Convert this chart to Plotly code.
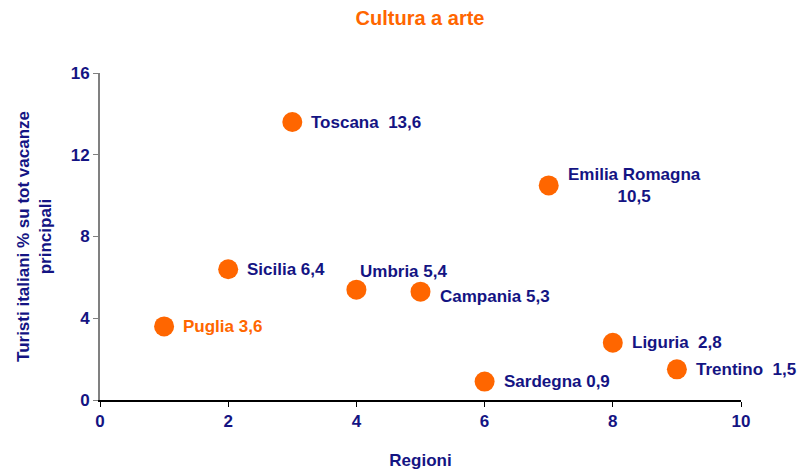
import plotly.graph_objects as go

regions = ["Puglia", "Sicilia", "Toscana", "Umbria", "Campania", "Sardegna", "Emilia Romagna", "Liguria", "Trentino"]
x_vals = [1, 2, 3, 4, 5, 6, 7, 8, 9]
y_vals = [3.6, 6.4, 13.6, 5.4, 5.3, 0.9, 10.5, 2.8, 1.5]
separators = [" ", " ", "&nbsp; ", " ", " ", " ", "<br>", "&nbsp; ", "&nbsp; "]

x_ticks = [0, 2, 4, 6, 8, 10]
y_ticks = [0, 4, 8, 12, 16]

ORANGE = "#FF6600"
NAVY = "#141483"
FONT = "Liberation Sans, Arial, sans-serif"

# label placement styles (pixel offsets)
label_style = {
    "Puglia": dict(xshift=17, yshift=0, xanchor="left", align="left", color=ORANGE),
    "Umbria": dict(xshift=2, yshift=18, xanchor="left", align="left", color=NAVY),
    "Campania": dict(xshift=17, yshift=-5, xanchor="left", align="left", color=NAVY),
    "Emilia Romagna": dict(xshift=17, yshift=0, xanchor="left", align="center", color=NAVY),
}
default_style = dict(xshift=17, yshift=0, xanchor="left", align="left", color=NAVY)

fig = go.Figure()
fig.add_trace(go.Scatter(
    x=x_vals, y=y_vals, mode="markers",
    marker=dict(color=ORANGE, size=20, line=dict(width=0)),
    hoverinfo="skip", showlegend=False,
))

annotations = []
for name, xv, yv, sep in zip(regions, x_vals, y_vals, separators):
    st = label_style.get(name, default_style)
    txt = f"{name}{sep}{str(yv).replace('.', ',')}"
    annotations.append(dict(
        x=xv, y=yv, xref="x", yref="y", text=txt, showarrow=False,
        xanchor=st["xanchor"], yanchor="middle", align=st["align"],
        xshift=st["xshift"], yshift=st["yshift"],
        font=dict(family=FONT, size=17, color=st["color"], weight="bold"),
    ))

fig.update_layout(
    width=800, height=470,
    margin=dict(l=100, r=59, t=73, b=70, autoexpand=False),
    paper_bgcolor="white", plot_bgcolor="white",
    title=dict(text="<b>Cultura a arte</b>", x=0.525, xanchor="center", y=0.962, yanchor="middle",
               font=dict(family=FONT, size=20, color=ORANGE)),
    xaxis=dict(
        range=[0, 10], tickvals=x_ticks, ticktext=[str(t) for t in x_ticks],
        showgrid=False, zeroline=False, showline=True, linecolor="black", linewidth=1.5,
        ticks="outside", ticklen=5, tickcolor="black", tickwidth=1, automargin=False,
        tickfont=dict(family=FONT, size=17, color=NAVY, weight="bold"),
        title=dict(text="<b>Regioni</b>", font=dict(family=FONT, size=17, color=NAVY), standoff=24),
    ),
    yaxis=dict(
        range=[0, 16], tickvals=y_ticks, ticktext=[str(t) for t in y_ticks],
        showgrid=False, zeroline=False, showline=True, linecolor="#808080", linewidth=2,
        ticks="outside", ticklen=5, tickcolor="#808080", tickwidth=1, automargin=False,
        tickfont=dict(family=FONT, size=17, color=NAVY, weight="bold"),
        title=dict(text="<b>Turisti italiani % su tot vacanze<br>principali</b>",
                   font=dict(family=FONT, size=17, color=NAVY), standoff=15),
    ),
    annotations=annotations,
)

fig.write_html(
    "out.html",
    config={"displayModeBar": False},
    post_script="document.body.style.margin='0';document.body.style.overflow='hidden';",
)
